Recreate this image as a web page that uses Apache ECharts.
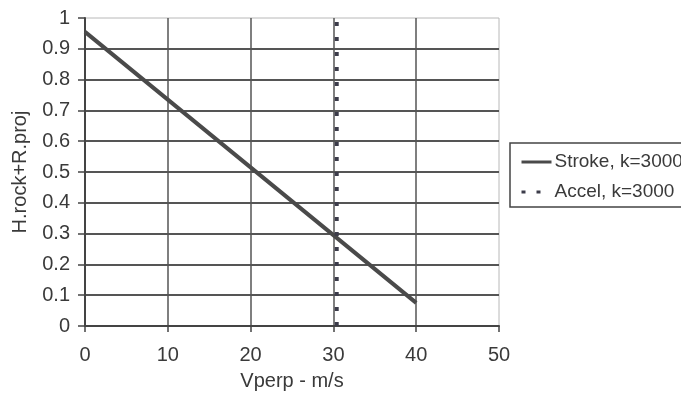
<!DOCTYPE html>
<html>
<head>
<meta charset="utf-8">
<style>
  html, body { margin: 0; padding: 0; background: #fff; }
  #chart { width: 681px; height: 396px; }
</style>
<script src="https://cdn.jsdelivr.net/npm/echarts@6/dist/echarts.min.js"></script>
</head>
<body>
<div id="chart"></div>
<script>
// Stroke line
const strokeX = [0, 10, 20, 30, 40];
const strokeY = [0.955, 0.735, 0.515, 0.295, 0.075];
// Accel, k=3000 is a vertical dotted line
const accelX = [30.4, 30.4];
const accelY = [0, 1];

const FONT = 'Liberation Sans, Arial, sans-serif';
const INK = '#3a3a3a';

const zip = (xs, ys) => xs.map((x, i) => [x, ys[i]]);

const chart = echarts.init(document.getElementById('chart'));
chart.setOption({
  backgroundColor: '#fff',
  animation: false,
  grid: {
    left: 85, top: 18, right: 182, bottom: 69,
    show: true, borderColor: '#b8b8b8', borderWidth: 1
  },
  legend: {
    orient: 'vertical',
    left: 510, top: 143,
    padding: [8, 40, 4, 10],
    itemGap: 8,
    itemWidth: 30,
    itemHeight: 22,
    borderColor: '#444',
    borderWidth: 1.5,
    borderRadius: 0,
    itemStyle: { opacity: 0 },
    lineStyle: { width: 3 },
    textStyle: { fontFamily: FONT, fontSize: 19, color: INK, padding: [0, 0, 0, -2], lineHeight: 22 },
    data: ['Stroke, k=3000', 'Accel, k=3000']
  },
  xAxis: {
    type: 'value',
    min: 0, max: 50, interval: 10,
    name: 'Vperp - m/s',
    nameLocation: 'middle',
    nameGap: 45,
    nameTextStyle: { fontFamily: FONT, fontSize: 20, color: INK },
    axisLine: { lineStyle: { color: '#444', width: 2 } },
    axisTick: { show: true, inside: false, length: 6, lineStyle: { color: '#444', width: 1.5 } },
    axisLabel: { fontFamily: FONT, fontSize: 20, color: INK, margin: 19 },
    splitLine: { show: true, showMinLine: false, showMaxLine: false, lineStyle: { color: '#555', width: 1.5 } }
  },
  yAxis: {
    type: 'value',
    min: 0, max: 1, interval: 0.1,
    name: 'H.rock+R.proj',
    nameLocation: 'middle',
    nameGap: 55,
    nameTextStyle: { fontFamily: FONT, fontSize: 20, color: INK },
    axisLine: { show: true, lineStyle: { color: '#444', width: 2 } },
    axisTick: { show: true, inside: false, length: 7, lineStyle: { color: '#444', width: 1.5 } },
    axisLabel: { fontFamily: FONT, fontSize: 20, color: INK, margin: 15 },
    splitLine: { show: true, showMinLine: false, showMaxLine: false, lineStyle: { color: '#555', width: 2 } }
  },
  series: [
    {
      name: 'Stroke, k=3000',
      type: 'line',
      symbol: 'none',
      data: zip(strokeX, strokeY),
      lineStyle: { color: '#4a4a4a', width: 4 },
      itemStyle: { color: '#4a4a4a' }
    },
    {
      name: 'Accel, k=3000',
      type: 'line',
      symbol: 'none',
      data: zip(accelX, accelY),
      lineStyle: { color: '#3c3c4a', width: 4, type: [4, 11], cap: 'butt' },
      itemStyle: { color: '#3c3c4a' }
    }
  ]
});
</script>
</body>
</html>
